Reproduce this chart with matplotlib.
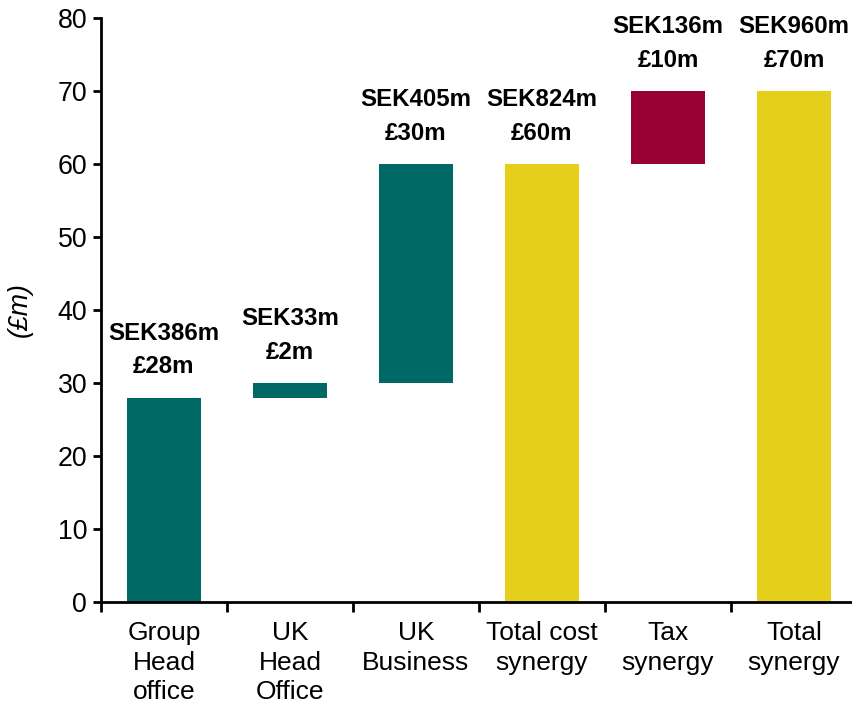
import numpy as np
import matplotlib.pyplot as plt

plt.rcParams['font.family'] = ['Liberation Sans', 'DejaVu Sans']

# categories and values (in £m)
categories = ["Group\nHead\noffice", "UK\nHead\nOffice", "UK\nBusiness",
              "Total cost\nsynergy", "Tax\nsynergy", "Total\nsynergy"]
values = [28, 2, 30, 60, 10, 70]
is_total = [False, False, False, True, False, True]
sek_labels = ["SEK386m", "SEK33m", "SEK405m", "SEK824m", "SEK136m", "SEK960m"]
gbp_labels = ["£28m", "£2m", "£30m", "£60m", "£10m", "£70m"]

TEAL = "#006966"
YELLOW = "#E6CF1A"
MAROON = "#990033"
colors = [TEAL, TEAL, TEAL, YELLOW, MAROON, YELLOW]

# waterfall bottoms
bottoms = []
running = 0
for v, tot in zip(values, is_total):
    if tot:
        bottoms.append(0)
        running = v
    else:
        bottoms.append(running)
        running += v

fig = plt.figure(figsize=(8.53, 7.14), dpi=100)
ax = fig.add_axes([101/853, 112/714, 756/853, 584/714])

x = np.arange(len(categories))
ax.bar(x, values, bottom=bottoms, width=0.58, color=colors)

# two-line labels above each bar
for xi, v, b, s, g in zip(x, values, bottoms, sek_labels, gbp_labels):
    ax.annotate(s + "\n" + g, (xi, v + b), xytext=(0, 14), textcoords="offset points",
                ha="center", va="bottom", fontsize=17.3, fontweight="bold",
                linespacing=1.57)

ax.set_xlim(-0.5, len(categories) - 0.5)
ax.set_ylim(0, 80)
ax.set_yticks(np.arange(0, 81, 10))

# ticks at category boundaries, labels centred
ax.set_xticks(np.arange(-0.5, len(categories), 1.0))
ax.set_xticklabels([])
ax.set_xticks(x, minor=True)
ax.set_xticklabels(categories, minor=True, fontsize=19, linespacing=1.28)
ax.tick_params(axis="x", which="major", length=7, width=2, direction="out")
ax.tick_params(axis="x", which="minor", length=0, pad=14)
ax.tick_params(axis="y", length=6, width=2, labelsize=19.3, pad=4)

for side in ["top", "right"]:
    ax.spines[side].set_visible(False)
for side in ["left", "bottom"]:
    ax.spines[side].set_linewidth(2)

ax.set_ylabel("(£m)", fontsize=19.3, style="italic", labelpad=18)

fig.savefig("out.png", dpi=100)
